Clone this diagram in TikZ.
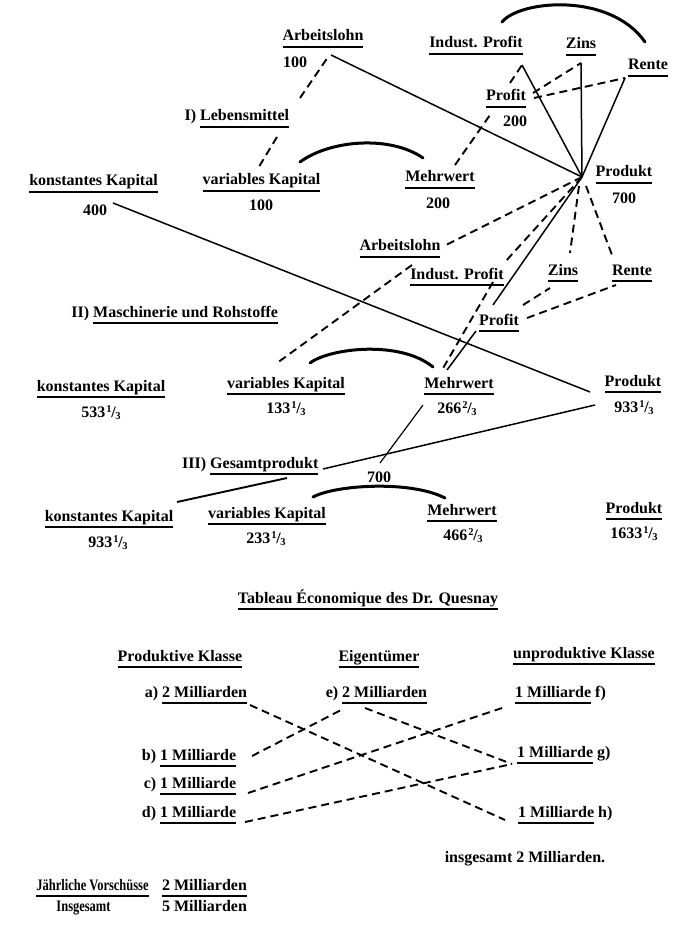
\documentclass[tikz,border=0pt]{standalone}
\usepackage{fontspec}
\setmainfont{Liberation Serif}
\newsavebox\ulbox
\newcommand\uln[1]{\sbox\ulbox{#1}\rlap{\rule[-6.6pt]{\wd\ulbox}{1.4pt}}\usebox\ulbox}
\newcommand\thr[2]{\kern1pt\raisebox{0.6ex}{\fontsize{10.5}{10}\selectfont #1}\kern-0.3pt/\kern-0.6pt\raisebox{-0.3ex}{\fontsize{10.5}{10}\selectfont #2}}
\newcommand\cond[1]{\scalebox{0.78}[1]{#1}}
\begin{document}
\begin{tikzpicture}[x=1pt,y=-1pt,
  txt/.style={inner sep=0pt, font=\fontsize{16}{19}\selectfont\bfseries, anchor=base},
  sline/.style={line width=1.5pt},
  dline/.style={line width=1.9pt, dash pattern=on 8pt off 5pt},
  arcline/.style={line width=3pt, line cap=round}]
\fill[white] (0,0) rectangle (675,925);
\useasboundingbox (0,0) rectangle (675,925);

% ---------- Section I ----------
\node[txt] (arbA) at (323,41) {\uln{Arbeitslohn}};
\node[txt,anchor=base west] (nA100) at (283,68) {100};
\node[txt,anchor=base west] (lebA) at (200,121) {\llap{I)\ }\uln{Lebensmittel}};
\node[txt] (vkA) at (261.5,185) {\uln{variables Kapital}};
\node[txt] (nA100b) at (261,211) {100};
\node[txt] (kkA) at (93.5,186) {\uln{konstantes Kapital}};
\node[txt] (nA400) at (95,215) {400};
\node[txt] (mwA) at (440,182) {\uln{Mehrwert}};
\node[txt] (nA200) at (438,208) {200};
\node[txt] (prA) at (506,101) {\uln{Profit}};
\node[txt] (nA200b) at (515,127) {200};
\node[txt] (ipA) at (476,48) {\uln{Indust. Profit}};
\node[txt] (zA) at (581,49) {\uln{Zins}};
\node[txt] (rA) at (648,70) {\uln{Rente}};
\node[txt] (pdA) at (624,177) {\uln{Produkt}};
\node[txt] (nA700) at (624,204) {700};

% ---------- Section II ----------
\node[txt] (arbB) at (400,251) {\uln{Arbeitslohn}};
\node[txt] (ipB) at (457,279) {\uln{Indust. Profit}};
\node[txt] (zB) at (563,275) {\uln{Zins}};
\node[txt] (rB) at (632,275) {\uln{Rente}};
\node[txt] (prB) at (499,325) {\uln{Profit}};
\node[txt,anchor=base west] (masB) at (93,317) {\llap{II)\ }\uln{Maschinerie und Rohstoffe}};
\node[txt] (kkB) at (101,391) {\uln{konstantes Kapital}};
\node[txt] (nB533) at (101,417) {533\thr13};
\node[txt] (vkB) at (286,388) {\uln{variables Kapital}};
\node[txt] (nB133) at (286,413) {133\thr13};
\node[txt] (mwB) at (459,388) {\uln{Mehrwert}};
\node[txt] (nB266) at (457,413) {266\thr23};
\node[txt] (pdB) at (633,386) {\uln{Produkt}};
\node[txt] (nB933) at (634,412) {933\thr13};

% ---------- Section III ----------
\node[txt,anchor=base west] (gesC) at (210,468) {\llap{III)\ }\uln{Gesamtprodukt}};
\node[txt] (nC700) at (379,482) {700};
\node[txt] (kkC) at (109,521) {\uln{konstantes Kapital}};
\node[txt] (nC933) at (108,547) {933\thr13};
\node[txt] (vkC) at (267,518) {\uln{variables Kapital}};
\node[txt] (nC233) at (266,543) {233\thr13};
\node[txt] (mwC) at (462,515) {\uln{Mehrwert}};
\node[txt] (nC466) at (463,540) {466\thr23};
\node[txt] (pdC) at (634,513) {\uln{Produkt}};
\node[txt] (nC1633) at (634,538) {1633\thr13};

% ---------- Tableau ----------
\node[txt] (tit) at (368,603) {\uln{Tableau Économique des Dr. Quesnay}};
\node[txt] (pk) at (180,661) {\uln{Produktive Klasse}};
\node[txt] (eig) at (379,661) {\uln{Eigentümer}};
\node[txt] (upk) at (584,658) {\uln{unproduktive Klasse}};
\node[txt,anchor=base west] (qa) at (162,697) {\llap{a)\ }\uln{2 Milliarden}};
\node[txt,anchor=base west] (qe) at (342,697) {\llap{e)\ }\uln{2 Milliarden}};
\node[txt,anchor=base west] (qf) at (515,697) {\uln{1 Milliarde}\rlap{\ f)}};
\node[txt,anchor=base west] (qg) at (517,757) {\uln{1 Milliarde}\rlap{\ g)}};
\node[txt,anchor=base west] (qh) at (518,817) {\uln{1 Milliarde}\rlap{\ h)}};
\node[txt,anchor=base west] (qb) at (160,760) {\llap{b)\ }\uln{1 Milliarde}};
\node[txt,anchor=base west] (qc) at (160,788) {\llap{c)\ }\uln{1 Milliarde}};
\node[txt,anchor=base west] (qd) at (160,817) {\llap{d)\ }\uln{1 Milliarde}};
\node[txt] (ins) at (525,862) {insgesamt 2 Milliarden.};
\node[txt] (jv) at (92.5,890) {\uln{\cond{Jährliche Vorschüsse}}};
\node[txt] (jv2) at (204.5,890) {\uln{2 Milliarden}};
\node[txt] (isg) at (83.5,911) {\cond{Insgesamt}};
\node[txt] (isg2) at (204.5,911) {5 Milliarden};

% ---------- connector points ----------
\coordinate (star) at (582,177);
\coordinate (apI) at (522,65);
\coordinate (apZ) at (581,63);
\coordinate (apR) at (625,78);
\coordinate (arbAe) at (331,55);
\coordinate (lebT) at (300,98);
\coordinate (arbAd) at (328,57);
\coordinate (lebB) at (277,137);
\coordinate (vkAt) at (257,170);
\coordinate (mwAt) at (455,165);
\coordinate (prAb) at (490,115);
\coordinate (prAt) at (510,83);
\coordinate (prAr) at (533,93);
\coordinate (prAr2) at (534,98);
\coordinate (n400e) at (113,203);
\coordinate (pdBw) at (590,392);
\coordinate (arbBe) at (446,245);
\coordinate (ipBe) at (505,262);
\coordinate (ipBb) at (493,282);
\coordinate (mwBt) at (442,370);
\coordinate (mwBt2) at (447,370);
\coordinate (prBt) at (493,305);
\coordinate (prBb) at (476,331);
\coordinate (zBt) at (570,253);
\coordinate (rBt) at (612,255);
\coordinate (starZ) at (579,186);
\coordinate (starR) at (586,186);
\coordinate (prBr) at (523,305);
\coordinate (zBl) at (550,288);
\coordinate (prBr2) at (527,318);
\coordinate (rBl) at (616,285);
\coordinate (ipBw) at (412,265);
\coordinate (vkBt) at (277,363);
\coordinate (n266w) at (423,405);
\coordinate (n700t) at (380,463);
\coordinate (pdBl) at (595,405);
\coordinate (gesE) at (323,469);
\coordinate (gesU) at (287,478);
\coordinate (kkCe) at (177,502);

% ---------- Section I connectors ----------
\draw[sline] (arbAe) -- (star);
\draw[sline] (apI) -- (star);
\draw[sline] (apZ) -- (star);
\draw[sline] (apR) -- (star);
\draw[dline] (lebT) -- (arbAd);
\draw[dline] (lebB) -- (vkAt);
\draw[dline] (mwAt) -- (prAb);
\draw[dline] (prAt) -- (apI);
\draw[dline] (prAr) -- (apZ);
\draw[dline] (prAr2) -- (apR);
\draw[arcline] (300,162) .. controls (330,140) and (390,135) .. (423,158);
\draw[arcline] (502,22) .. controls (520,0) and (610,-8) .. (645,42);

% ---------- Section II connectors ----------
\draw[sline] (n400e) -- (pdBw);
\draw[dline] (star) -- (arbBe);
\draw[dline] (star) -- (ipBe);
\draw[dline] (ipBb) -- (mwBt);
\draw[sline] (star) -- (prBt);
\draw[sline] (prBb) -- (mwBt2);
\draw[dline] (starZ) -- (zBt);
\draw[dline] (starR) -- (rBt);
\draw[dline] (prBr) -- (zBl);
\draw[dline] (prBr2) -- (rBl);
\draw[dline] (ipBw) -- (vkBt);
\draw[arcline] (310,363) .. controls (330,348) and (400,340) .. (433,367);

% ---------- Section III connectors ----------
\draw[line width=1.2pt] (n266w) -- (n700t);
\draw[sline] (pdBl) -- (gesE);
\draw[line width=1.9pt] (gesU) -- (kkCe);
\draw[arcline] (313,497) .. controls (335,485) and (410,480) .. (445,498);

% ---------- Tableau connectors ----------
\coordinate (qaE) at (250,705);
\coordinate (qhW) at (505,820);
\coordinate (qbE) at (252,756);
\coordinate (qeW) at (343,709);
\coordinate (qeM) at (365,708);
\coordinate (qgW) at (512,764);
\coordinate (qcE) at (248,793);
\coordinate (qfW) at (505,707);
\coordinate (qdE) at (245,822);
\draw[dline] (qaE) -- (qhW);
\draw[dline] (qbE) -- (qeW);
\draw[dline] (qeM) -- (qgW);
\draw[dline] (qcE) -- (qfW);
\draw[dline] (qdE) -- (qgW);
\end{tikzpicture}
\end{document}
